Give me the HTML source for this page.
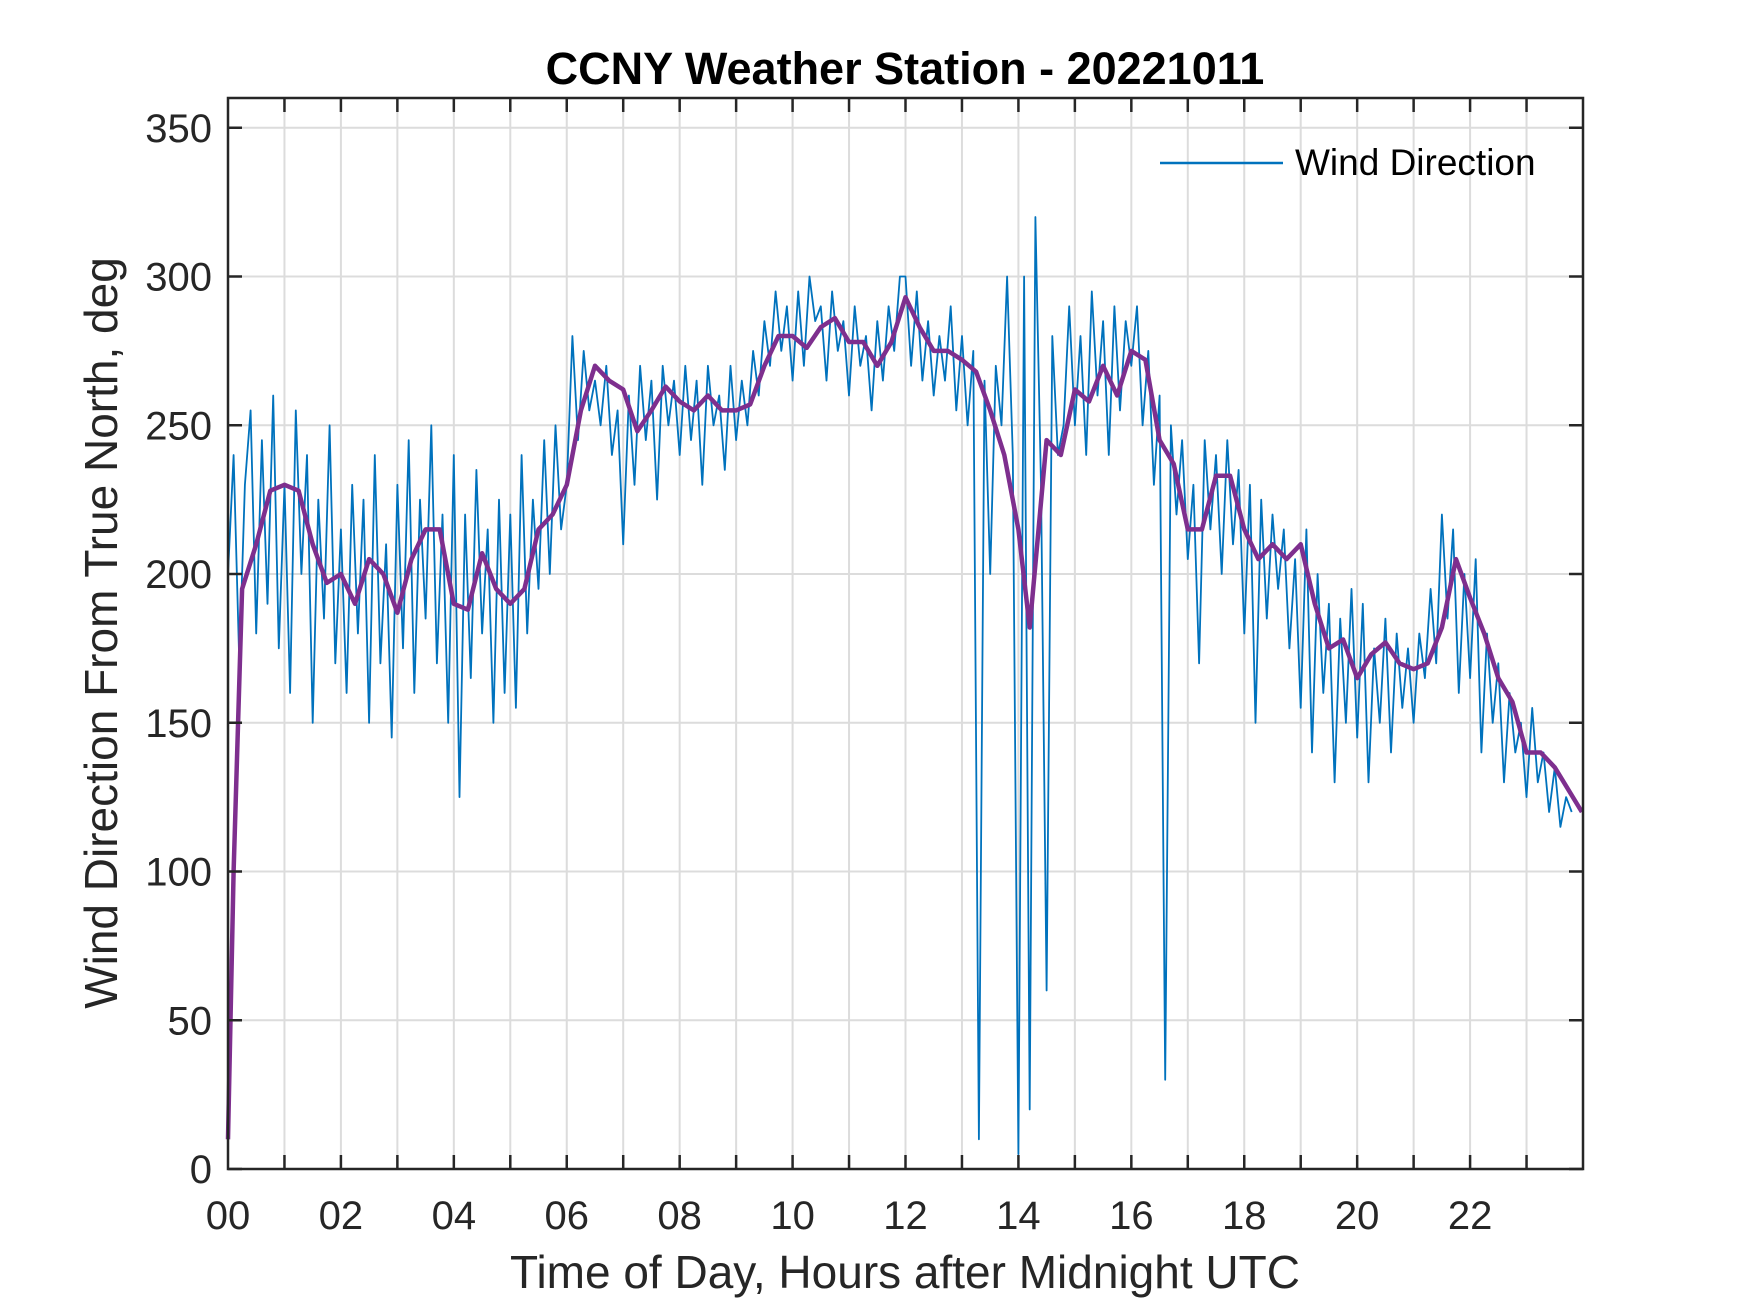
<!DOCTYPE html>
<html><head><meta charset="utf-8"><style>
body{margin:0;background:#fff;}
svg{display:block;font-family:"Liberation Sans",Arial,sans-serif;}
</style></head><body>
<svg id="chart" width="1750" height="1313" viewBox="0 0 1750 1313" xmlns="http://www.w3.org/2000/svg">
<rect width="1750" height="1313" fill="#fff"/>
<g id="grid"></g>
<g id="series"></g>
<g id="axes"></g>
<text x="905" y="84" text-anchor="middle" font-size="45" font-weight="bold" fill="#000">CCNY Weather Station - 20221011</text>
<text x="905" y="1288" text-anchor="middle" font-size="46" fill="#262626">Time of Day, Hours after Midnight UTC</text>
<text transform="translate(117,633) rotate(-90)" text-anchor="middle" font-size="46" fill="#262626">Wind Direction From True North, deg</text>
<g>
<line x1="1160" y1="163" x2="1283" y2="163" stroke="#0072BD" stroke-width="2.5"/>
<text x="1295" y="175" font-size="37" fill="#000">Wind Direction</text>
</g>
</svg>
<script>
const xTickLabels = ["00","02","04","06","08","10","12","14","16","18","20","22"];
const yTickValues = [0,50,100,150,200,250,300,350];
const rawValues = [
200,240,170,230,255,180,245,190,260,175,
230,160,255,200,240,150,225,185,250,170,
215,160,230,180,225,150,240,170,210,145,
230,175,245,160,225,185,250,170,220,150,
240,125,220,165,235,180,215,150,225,160,
220,155,240,180,225,195,245,200,250,215,
230,280,245,275,255,265,250,270,240,255,
210,260,230,270,245,265,225,270,250,265,
240,270,245,265,230,270,250,260,235,270,
245,265,250,275,260,285,270,295,275,290,
265,295,270,300,285,290,265,295,275,285,
260,290,270,280,255,285,265,290,275,300,
300,270,295,265,285,260,280,265,290,255,
280,250,275,10,265,200,270,250,300,240,
5,300,20,320,230,60,280,240,250,290,
250,280,240,295,260,285,240,290,255,285,
270,290,250,275,230,260,30,250,220,245,
205,230,170,245,215,240,200,245,210,235,
180,230,150,225,185,220,195,215,175,205,
155,215,140,200,160,190,130,185,150,195,
145,190,130,175,150,185,140,180,155,175,
150,180,165,195,170,220,185,215,160,200,
165,205,140,180,150,170,130,160,140,150,
125,155,130,140,120,135,115,125,120];
const rawStep = 0.1;
const smoothTimes = [0,0.1,0.25,0.5,0.75,1,1.25,1.5,1.75,2,2.25,2.5,2.75,3,3.25,3.5,3.75,4,4.25,4.5,4.75,5,5.25,5.5,5.75,6,6.25,6.5,6.75,7,7.25,7.5,7.75,8,8.25,8.5,8.75,9,9.25,9.5,9.75,10,10.25,10.5,10.75,11,11.25,11.5,11.75,12,12.25,12.5,12.75,13,13.25,13.5,13.75,14,14.2,14.5,14.75,15,15.25,15.5,15.75,16,16.25,16.5,16.75,17,17.25,17.5,17.75,18,18.25,18.5,18.75,19,19.25,19.5,19.75,20,20.25,20.5,20.75,21,21.25,21.5,21.75,22,22.25,22.5,22.75,23,23.25,23.5,23.98];
const smoothValues = [10,100,195,210,228,230,228,210,197,200,190,205,200,187,205,215,215,190,188,207,195,190,195,215,220,230,255,270,265,262,248,255,263,258,255,260,255,255,257,270,280,280,276,283,286,278,278,270,278,293,283,275,275,272,268,255,240,215,182,245,240,262,258,270,260,275,272,245,237,215,215,233,233,215,205,210,205,210,190,175,178,165,173,177,170,168,170,182,205,192,180,165,157,140,140,135,120];

const L=228,R=1583,T=98,B=1169,XMAX=24,YMAX=360;
const sx=h=>L+h*(R-L)/XMAX;
const sy=v=>B-v*(B-T)/YMAX;
const NS="http://www.w3.org/2000/svg";
function mk(tag,attrs,parent){const e=document.createElementNS(NS,tag);for(const k in attrs)e.setAttribute(k,attrs[k]);parent.appendChild(e);return e;}
const grid=document.getElementById('grid'),axes=document.getElementById('axes'),series=document.getElementById('series');
for(let h=1;h<XMAX;h++){
  const g=mk('line',{x1:sx(h),x2:sx(h),y1:T,y2:B,stroke:'#dcdcdc','stroke-width':2},grid);
  
  
}
yTickValues.forEach(v=>{
  if(v>0){const g=mk('line',{x1:L,x2:R,y1:sy(v),y2:sy(v),stroke:'#dcdcdc','stroke-width':2},grid);
  
  }
});
let pts=rawValues.map((v,i)=>sx(Math.min(i*rawStep,23.98)).toFixed(1)+','+sy(v).toFixed(1)).join(' ');
const blue=mk('polyline',{points:pts,fill:'none',stroke:'#0072BD','stroke-width':1.8,'stroke-linejoin':'round'},series);


let pts2=smoothTimes.map((t,i)=>sx(t).toFixed(1)+','+sy(smoothValues[i]).toFixed(1)).join(' ');
const purple=mk('polyline',{points:pts2,fill:'none',stroke:'#7E2F8E','stroke-width':4.5,'stroke-linejoin':'round'},series);


const box=mk('rect',{x:L,y:T,width:R-L,height:B-T,fill:'none',stroke:'#262626','stroke-width':2.5},axes);


for(let h=1;h<XMAX;h++){
  const t1=mk('line',{x1:sx(h),x2:sx(h),y1:B,y2:B-14,stroke:'#262626','stroke-width':2.5},axes);
  
  
  const t2=mk('line',{x1:sx(h),x2:sx(h),y1:T,y2:T+14,stroke:'#262626','stroke-width':2.5},axes);
  
  
}
xTickLabels.forEach((lab,i)=>{
  const t=mk('text',{x:sx(i*2),y:1229,'text-anchor':'middle','font-size':40,fill:'#262626'},axes);
  t.textContent=lab;
  
  
});
yTickValues.forEach(v=>{
  const t1=mk('line',{x1:L,x2:L+14,y1:sy(v),y2:sy(v),stroke:'#262626','stroke-width':2.5},axes);
  
  
  const t2=mk('line',{x1:R,x2:R-14,y1:sy(v),y2:sy(v),stroke:'#262626','stroke-width':2.5},axes);
  
  
  const t=mk('text',{x:212,y:sy(v)+14,'text-anchor':'end','font-size':40,fill:'#262626'},axes);
  t.textContent=v;
  
  
});
</script>
</body></html>
